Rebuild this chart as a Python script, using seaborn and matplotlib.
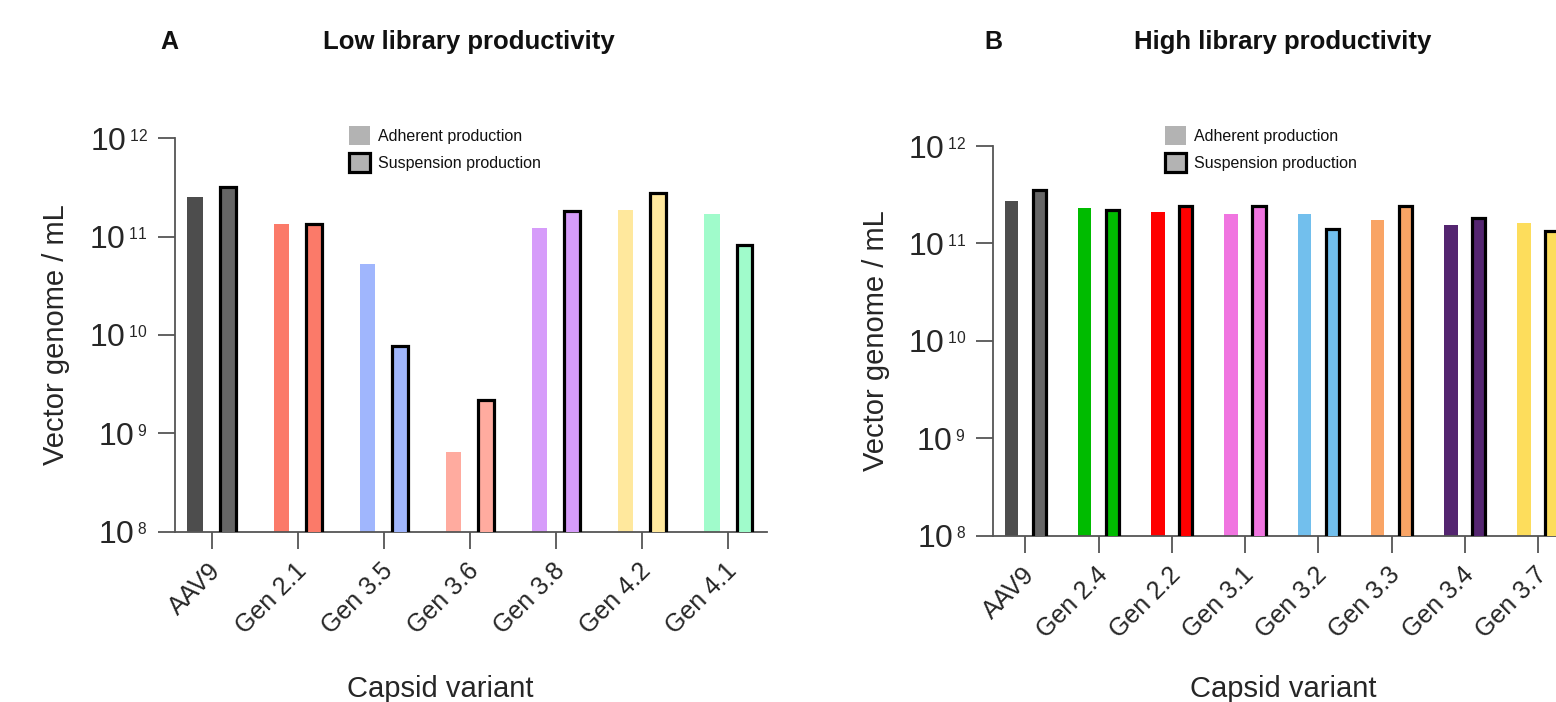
import matplotlib
matplotlib.use("Agg")
import matplotlib.pyplot as plt
from matplotlib.patches import Patch
from matplotlib.ticker import LogLocator, NullLocator, FuncFormatter
from matplotlib.transforms import ScaledTranslation
import numpy as np
import seaborn as sns
import pandas as pd

# ---------------- data ----------------
low_variants = ["AAV9", "Gen 2.1", "Gen 3.5", "Gen 3.6", "Gen 3.8", "Gen 4.2", "Gen 4.1"]
low_adherent = [2.5e11, 1.34e11, 5.3e10, 6.4e8, 1.23e11, 1.86e11, 1.69e11]
low_suspension = [3.2e11, 1.35e11, 7.8e9, 2.17e9, 1.82e11, 2.8e11, 8.2e10]
low_adherent_colors = ["#4d4d4d", "#fb7a69", "#a0b6fd", "#ffab9f", "#d69cfa", "#ffe89d", "#a0fbcb"]
low_suspension_colors = ["#666666", "#fb7a69", "#a0b6fd", "#ffab9f", "#d69cfa", "#ffe89d", "#a0fbcb"]

high_variants = ["AAV9", "Gen 2.4", "Gen 2.2", "Gen 3.1", "Gen 3.2", "Gen 3.3", "Gen 3.4", "Gen 3.7"]
high_adherent = [2.7e11, 2.3e11, 2.1e11, 2.0e11, 2.0e11, 1.74e11, 1.54e11, 1.62e11]
high_suspension = [3.5e11, 2.2e11, 2.45e11, 2.45e11, 1.4e11, 2.45e11, 1.82e11, 1.33e11]
high_adherent_colors = ["#4d4d4d", "#00bb00", "#ff0000", "#f075e0", "#72bfed", "#f9a465", "#542570", "#fddd5c"]
high_suspension_colors = ["#666666", "#00bb00", "#ff0000", "#f075e0", "#72bfed", "#f9a465", "#542570", "#fddd5c"]

productions = ["Adherent production", "Suspension production"]
panel_titles = ["Low library productivity", "High library productivity"]
panel_letters = ["A", "B"]
x_label = "Capsid variant"
y_label = "Vector genome / mL"

# ---------------- style ----------------
sns.set_style("ticks")
plt.rcParams["font.family"] = ["Liberation Sans", "DejaVu Sans"]
plt.rcParams["mathtext.default"] = "regular"
plt.rcParams["text.color"] = "#111111"

fig = plt.figure(figsize=(15.56, 7.02), dpi=100)
W, H = 1556, 702

axA = fig.add_axes([175 / W, 1 - 531.5 / H, 592 / W, 393.2 / H])
axB = fig.add_axes([993.3 / W, 1 - 535.7 / H, 577.7 / W, 389.7 / H])

SPINE = "#555555"


def log_label(v, pos):
    e = int(round(np.log10(v)))
    return r"$10^{\,{}_{%d}}$" % e


def draw_panel(ax, variants, adh, sus, adh_cols, sus_cols, xlim):
    df = pd.DataFrame({
        "variant": variants * 2,
        "value": adh + sus,
        "production": [productions[0]] * len(variants) + [productions[1]] * len(variants),
    })
    sns.barplot(data=df, x="variant", y="value", hue="production", order=variants,
                hue_order=productions, ax=ax, width=0.76, gap=0.52, dodge=True,
                errorbar=None, legend=False, saturation=1)
    ax.set_yscale("log")
    ax.set_ylim(1e8, 1e12)
    ax.set_xlim(*xlim)
    for bar, c in zip(ax.containers[0], adh_cols):
        bar.set_facecolor(c)
        bar.set_edgecolor("none")
        bar.set_linewidth(0)
    for bar, c in zip(ax.containers[1], sus_cols):
        bar.set_facecolor(c)
        bar.set_edgecolor("black")
        bar.set_linewidth(2.3)
        bar.set_zorder(3)
    ax.yaxis.set_major_locator(LogLocator(base=10, numticks=10))
    ax.yaxis.set_minor_locator(NullLocator())
    ax.yaxis.set_major_formatter(FuncFormatter(log_label))
    sns.despine(ax=ax)
    for side in ("left", "bottom"):
        ax.spines[side].set_color(SPINE)
        ax.spines[side].set_linewidth(1.3)
    ax.tick_params(axis="both", direction="out", length=12.5, width=1.3, color=SPINE)
    ax.tick_params(axis="y", labelsize=23, pad=7)
    ax.tick_params(axis="x", labelsize=18, pad=13)
    shift = ScaledTranslation(5 / 100, 0, fig.dpi_scale_trans)
    for lab in ax.get_xticklabels():
        lab.set_rotation(45)
        lab.set_ha("right")
        lab.set_va("center")
        lab.set_rotation_mode("anchor")
        lab.set_transform(lab.get_transform() + shift)
    ax.set_xlabel(x_label, fontsize=21)
    ax.set_ylabel(y_label, fontsize=21)


draw_panel(axA, low_variants, low_adherent, low_suspension,
           low_adherent_colors, low_suspension_colors, (-0.426, 6.453))
draw_panel(axB, high_variants, high_adherent, high_suspension,
           high_adherent_colors, high_suspension_colors, (-0.437, 7.45))

axA.xaxis.set_label_coords(0.4476, -0.365)
axB.xaxis.set_label_coords(0.5015, -0.358)
axA.yaxis.set_label_coords(-0.177, 0.5)
axB.yaxis.set_label_coords(-0.178, 0.5)
for ax in (axA, axB):
    ax.xaxis.label.set_va("top")
    ax.yaxis.label.set_va("bottom")

fig.text(169 / W, 1 - 42 / H, panel_letters[0], fontsize=18, fontweight="bold", ha="center", va="center")
fig.text(469 / W, 1 - 42 / H, panel_titles[0], fontsize=18.5, fontweight="bold", ha="center", va="center")
fig.text(993 / W, 1 - 42 / H, panel_letters[1], fontsize=18, fontweight="bold", ha="center", va="center")
fig.text(1283 / W, 1 - 42 / H, panel_titles[1], fontsize=18.5, fontweight="bold", ha="center", va="center")

handles = [
    Patch(facecolor="#b3b3b3", edgecolor="none", label=productions[0]),
    Patch(facecolor="#b3b3b3", edgecolor="black", linewidth=2.3, label=productions[1]),
]
for x0 in (349, 1165):
    fig.legend(handles=handles, loc="upper left", bbox_to_anchor=(x0 / W, 1 - 126 / H),
               frameon=False, fontsize=11.5, handlelength=1.3, handleheight=1.45,
               handletextpad=0.5, labelspacing=0.5, borderpad=0, borderaxespad=0)

fig.savefig("out.png", dpi=100)
